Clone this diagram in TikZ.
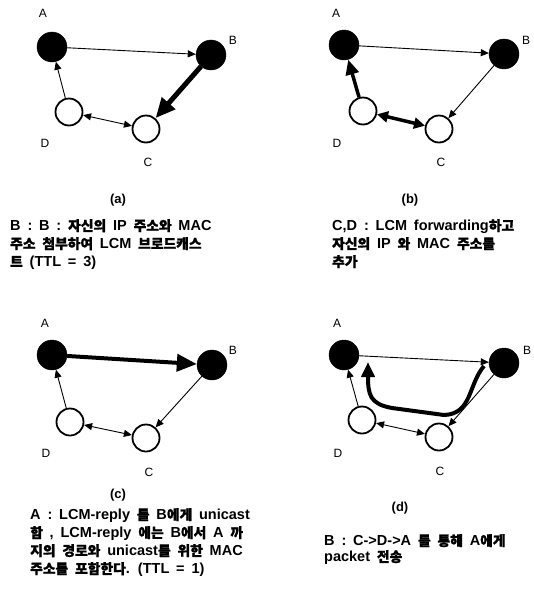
\documentclass[tikz,border=0pt]{standalone}
\usepackage{fontspec}
\setmainfont{Liberation Sans}[WordSpace=1.7]
\newfontfamily\krfont{Noto Sans CJK KR}[Scale=0.95,FakeBold=1.2,WordSpace=1.7]
\newfontfamily\labfont{Liberation Sans}
\XeTeXinterchartokenstate=1
\newXeTeXintercharclass\krclass
\newcount\hcount
\hcount="AC00
\loop \XeTeXcharclass\hcount=\krclass \advance\hcount by 1 \ifnum\hcount<"D7A4 \repeat
\XeTeXinterchartoks 0 \krclass = {\krfont}
\XeTeXinterchartoks 4095 \krclass = {\krfont}
\XeTeXinterchartoks \krclass 0 = {\rmfamily}
\XeTeXinterchartoks \krclass 4095 = {\rmfamily}
\usetikzlibrary{arrows.meta}
\tikzset{
  full/.style={circle,fill=black,draw=black,minimum size=30pt,inner sep=0},
  empty/.style={circle,fill=white,draw=black,line width=1.8pt,minimum size=27pt,inner sep=0},
  lab/.style={font={\labfont\fontsize{12}{14}\selectfont},inner sep=0},
  thinarr/.style={line width=0.9pt,-{Triangle[length=8pt,width=7pt]}},
  thinboth/.style={line width=0.9pt,{Triangle[length=8pt,width=7pt]}-{Triangle[length=8pt,width=7pt]}},
  thickarr/.style={line width=5pt,-{Triangle[length=20pt,width=17pt]}},
  midthick/.style={line width=3.5pt,-{Triangle[length=15pt,width=13pt]}},
  midboth/.style={line width=3.5pt,{Triangle[length=11pt,width=11pt]}-{Triangle[length=11pt,width=11pt]}},
  subcap/.style={font={\bfseries\fontsize{13}{14}\selectfont},inner sep=0},
  desc/.style={font={\bfseries\fontsize{14.5}{18}\selectfont},inner sep=0,anchor=north west,align=left},
}
\begin{document}
\begin{tikzpicture}[x=1pt,y=-1pt]
\useasboundingbox (0,0) rectangle (534,595);
% (a)
\node[full] (aA) at (52,47) {};
\node[full] (aB) at (211,55) {};
\node[empty] (aD) at (69,112) {};
\node[empty] (aC) at (146,129) {};
\node[lab] (aAl) at (43,13) {A};
\node[lab] (aBl) at (233,40) {B};
\node[lab] (aDl) at (45,143) {D};
\node[lab] (aCl) at (148,162) {C};
\draw[thinarr] (aA) -- (aB);
\draw[thickarr] (aB) -- (aC);
\draw[thinarr] (aD) -- (aA);
\draw[thinboth] (aD) -- (aC);
\node[subcap] (acap) at (118,200) {(a)};
\node[desc] (adesc) at (10,219) {B : B : 자신의 IP 주소와 MAC\\주소 첨부하여 LCM 브로드캐스\\트 (TTL = 3)};
% (b)
\node[full] (bA) at (344,45) {};
\node[full] (bB) at (504,54) {};
\node[empty] (bD) at (363,111) {};
\node[empty] (bC) at (439,129) {};
\node[lab] (bAl) at (336,13) {A};
\node[lab] (bBl) at (526,40) {B};
\node[lab] (bDl) at (337,143) {D};
\node[lab] (bCl) at (441,162) {C};
\draw[thinarr] (bA) -- (bB);
\draw[thinarr] (bB) -- (bC);
\draw[midthick] (bD) -- (bA);
\draw[midboth] (bD) -- (bC);
\node[subcap] (bcap) at (410,200) {(b)};
\node[desc] (bdesc) at (332,219) {C,D : LCM forwarding하고\\자신의 IP 와 MAC 주소를\\추가};
% (c)
\node[full] (cA) at (52,355) {};
\node[full] (cB) at (212,365) {};
\node[empty] (cD) at (70,422) {};
\node[empty] (cC) at (146,438) {};
\node[lab] (cAl) at (45,323) {A};
\node[lab] (cBl) at (233,350) {B};
\node[lab] (cDl) at (46,453) {D};
\node[lab] (cCl) at (149,472) {C};
\draw[thickarr,line width=4pt] (cA) -- (cB);
\draw[thinarr] (cB) -- (cC);
\draw[thinarr] (cD) -- (cA);
\draw[thinboth] (cD) -- (cC);
\node[subcap] (ccap) at (118,495) {(c)};
\node[desc] (cdesc) at (30,508) {A : LCM-reply 를 B에게 unicast\\함 , LCM-reply 에는 B에서 A 까\\지의 경로와 unicast를 위한 MAC\\주소를 포함한다. (TTL = 1)};
% (d)
\node[full] (dA) at (344,355) {};
\node[full] (dB) at (504,363) {};
\node[empty] (dD) at (362,420) {};
\node[empty] (dC) at (439,437) {};
\node[lab] (dAl) at (337,323) {A};
\node[lab] (dBl) at (527,350) {B};
\node[lab] (dDl) at (338,453) {D};
\node[lab] (dCl) at (440,471) {C};
\draw[thinarr] (dA) -- (dB);
\draw[thinarr] (dB) -- (dC);
\draw[thinarr] (dD) -- (dA);
\draw[thinboth] (dD) -- (dC);
\coordinate (dstart) at (484,366);
\coordinate (dend) at (368,362);
\draw[line width=4pt,-{Triangle[length=15pt,width=13pt]}] (dstart) .. controls (468,385) and (472,414) .. (444,415) -- (392,408) .. controls (370,404) and (368,395) .. (dend);
\node[subcap] (dcap) at (400,508) {(d)};
\node[desc,font={\bfseries\fontsize{14.5}{16}\selectfont}] (ddesc) at (324,534) {B : C->D->A 를 통해  A에게\\packet 전송};
\end{tikzpicture}
\end{document}
